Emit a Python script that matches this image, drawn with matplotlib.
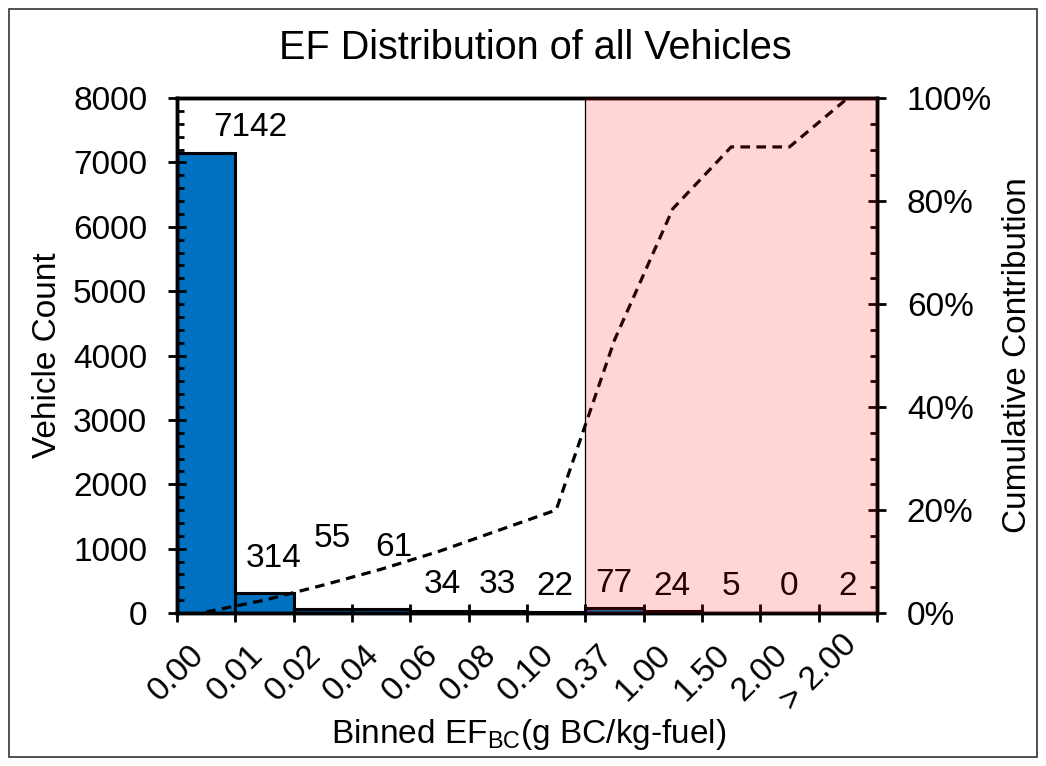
import matplotlib
matplotlib.use("Agg")
import matplotlib.pyplot as plt
import matplotlib.transforms as mtransforms
from matplotlib.patches import Rectangle
from matplotlib.ticker import MultipleLocator, PercentFormatter

plt.rcParams['font.family'] = ['Liberation Sans', 'DejaVu Sans']

# bins of EF_BC (g BC/kg-fuel), tick label at left edge of each bin
bin_labels = ['0.00', '0.01', '0.02', '0.04', '0.06', '0.08', '0.10',
              '0.37', '1.00', '1.50', '2.00', '> 2.00']
vehicle_counts = [7142, 314, 55, 61, 34, 33, 22, 77, 24, 5, 0, 2]
cumulative_pct = [0.2, 2.5, 5.4, 8.5, 12.0, 16.0, 20.0, 53.0, 78.5, 90.5, 90.5, 100.0]

# where the count labels sit (bin units, vehicle count units)
label_x = [1.25, 1.65, 2.67, 3.72, 4.54, 5.49, 6.48, 7.49, 8.49, 9.50, 10.49, 11.49]
label_y = [7534, 839, 1150, 1010, 435, 435, 404, 466, 404, 404, 404, 404]

highlight_start = 7   # first high-emitter bin (0.37)

W, H = 1046, 766
fig = plt.figure(figsize=(W / 100, H / 100), dpi=100)
ax = fig.add_axes([177 / W, 1 - 613 / H, 700 / W, 515 / H])
ax2 = ax.twinx()

n = len(vehicle_counts)
ax.bar([i + 0.5 for i in range(n)], vehicle_counts, width=1.0,
       color='#0070C0', edgecolor='black', linewidth=2.2, zorder=2)
for x, y, c in zip(label_x, label_y, vehicle_counts):
    ax.text(x, y, str(c), ha='center', va='center', fontsize=24, zorder=3)
ax.set_axisbelow(False)

ax.set_xlim(0, n)
ax.set_ylim(0, 8000)
ax.set_yticks(range(0, 8001, 1000))
ax.yaxis.set_minor_locator(MultipleLocator(200))
ax.set_xticks(range(n + 1))
ax.set_xticklabels(bin_labels + [''], rotation=45, ha='center', va='center',
                   rotation_mode='anchor', fontsize=24)
shift = mtransforms.ScaledTranslation(8 / 100, 0, fig.dpi_scale_trans)
for lab in ax.get_xticklabels():
    lab.set_transform(lab.get_transform() + shift)

ax.tick_params(axis='x', which='major', direction='inout', length=13, width=2, pad=37)
ax.tick_params(axis='y', which='major', direction='inout', length=13, width=2,
               pad=15, labelsize=24)
ax.tick_params(axis='y', which='minor', direction='in', length=5, width=2)
for s in ax.spines.values():
    s.set_linewidth(2.5)

# cumulative contribution on the right axis
ax2.plot([i + 0.5 for i in range(n)], [c / 100 for c in cumulative_pct],
         color='black', linewidth=2.3, dashes=(3, 2), zorder=3)
ax2.set_ylim(0, 1)
ax2.yaxis.set_major_locator(MultipleLocator(0.2))
ax2.yaxis.set_minor_locator(MultipleLocator(0.05))
ax2.yaxis.set_major_formatter(PercentFormatter(1.0, decimals=0))
ax2.tick_params(axis='y', which='major', direction='inout', length=13, width=2,
                pad=15, labelsize=24)
ax2.tick_params(axis='y', which='minor', direction='in', length=5, width=2)
for s in ax2.spines.values():
    s.set_linewidth(2.5)

# shaded high-emitter region
ax2.add_patch(Rectangle((highlight_start, 0), n - highlight_start, 1,
                        facecolor=(1, 0, 0, 0.165), edgecolor='none', zorder=10))
ax2.axvline(highlight_start, color='black', linewidth=0.9, zorder=11)

fig.text(535 / W, 1 - 48 / H, 'EF Distribution of all Vehicles',
         ha='center', va='center', fontsize=28.5)
fig.text(48 / W, 1 - 355 / H, 'Vehicle Count', rotation=90,
         ha='center', va='center', fontsize=24)
fig.text(1018 / W, 1 - 355 / H, 'Cumulative Contribution', rotation=90,
         ha='center', va='center', fontsize=24)
fig.text(529 / W, 1 - 735 / H, r'Binned EF$_{\mathregular{BC}}$(g BC/kg-fuel)',
         ha='center', va='center', fontsize=24)

# outer frame
fig.add_artist(Rectangle((9 / W, 9 / H), 1028 / W, 748 / H, transform=fig.transFigure,
                         facecolor='none', edgecolor='#333333', linewidth=1.2))

fig.savefig('out.png', dpi=100)
